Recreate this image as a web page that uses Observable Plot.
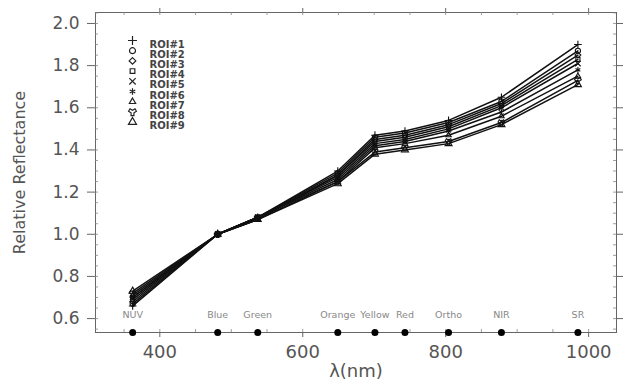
<!DOCTYPE html>
<html><head><meta charset="utf-8">
<script src="https://cdn.jsdelivr.net/npm/d3@7"></script>
<script src="https://cdn.jsdelivr.net/npm/@observablehq/plot@0.6"></script>
<style>
body{margin:0;background:#fff;}
#chart svg{font-family:"DejaVu Sans",sans-serif;}
</style>
</head><body><div id="chart"></div>
<script>
const wavelengths = [362, 481, 537, 649, 701, 743, 804, 878, 985];
const bandNames = ["NUV", "Blue", "Green", "Orange", "Yellow", "Red", "Ortho", "NIR", "SR"];
const seriesNames = ["ROI#1", "ROI#2", "ROI#3", "ROI#4", "ROI#5", "ROI#6", "ROI#7", "ROI#8", "ROI#9"];
const seriesSymbols = ["plus", "circle", "diamond2", "square2", "times", "asterisk", "triangle2", "wye", "triangle"];
const s1 = [0.66, 1.00, 1.08, 1.30, 1.47, 1.49, 1.54, 1.65, 1.90];
const s2 = [0.67, 1.00, 1.08, 1.29, 1.46, 1.48, 1.53, 1.63, 1.87];
const s3 = [0.68, 1.00, 1.08, 1.28, 1.45, 1.47, 1.52, 1.62, 1.85];
const s4 = [0.69, 1.00, 1.07, 1.28, 1.44, 1.46, 1.51, 1.61, 1.83];
const s5 = [0.70, 1.00, 1.08, 1.27, 1.43, 1.45, 1.50, 1.60, 1.81];
const s6 = [0.70, 1.00, 1.08, 1.26, 1.42, 1.44, 1.49, 1.58, 1.78];
const s7 = [0.71, 1.00, 1.07, 1.25, 1.41, 1.43, 1.47, 1.56, 1.75];
const s8 = [0.72, 1.00, 1.08, 1.25, 1.39, 1.41, 1.44, 1.53, 1.73];
const s9 = [0.73, 1.00, 1.07, 1.24, 1.38, 1.40, 1.43, 1.52, 1.71];
const seriesValues = [s1, s2, s3, s4, s5, s6, s7, s8, s9];
const yTicks = [0.6, 0.8, 1.0, 1.2, 1.4, 1.6, 1.8, 2.0];
const xTicks = [400, 600, 800, 1000];

const rows = [];
seriesValues.forEach((vals, i) => vals.forEach((v, j) => rows.push({series: seriesNames[i], sym: seriesSymbols[i], nm: wavelengths[j], v})));
const bands = wavelengths.map((nm, i) => ({nm, name: bandNames[i]}));
const yMinor = d3.range(0.55, 2.051, 0.05).map(d => +d.toFixed(2));
const xMinor = d3.range(350, 1040, 50);

const W = 634, H = 379, mL = 95, mR = 18, mT = 12, mB = 47;
const pw = W - mL - mR, ph = H - mT - mB;
const gray = "#555";

const legendMarks = [];
seriesNames.forEach((name, i) => {
  legendMarks.push(Plot.dot([name], {frameAnchor: "top-left", dx: 37, dy: 28 + i * 10.2, r: 3, symbol: () => seriesSymbols[i], stroke: "#222", strokeWidth: 1.2}));
  legendMarks.push(Plot.text([name], {frameAnchor: "top-left", dx: 54, dy: 28 + i * 10.2, text: d => d, textAnchor: "start", fontSize: 10, fontWeight: "bold", fill: "#444"}));
});

const chart = Plot.plot({
  width: W, height: H,
  marginLeft: mL, marginRight: mR, marginTop: mT, marginBottom: mB,
  style: {fontFamily: "DejaVu Sans, sans-serif", background: "#fff"},
  x: {domain: [310, 1039]},
  y: {domain: [0.534, 2.052]},
  symbol: {domain: seriesSymbols, range: seriesSymbols},
  marks: [
    Plot.frame({stroke: "#666"}),
    Plot.axisY({anchor: "left", ticks: yTicks, tickFormat: d3.format(".1f"), tickSize: 8, tickPadding: 8, fontSize: 17, fill: gray, stroke: "#666", label: null}),
    Plot.axisY({anchor: "left", ticks: [], label: "Relative Reflectance", labelAnchor: "center", labelArrow: "none", labelOffset: 82, fontSize: 16, fill: gray}),
    Plot.axisY({anchor: "right", ticks: yTicks, tickFormat: () => "", tickSize: 6, stroke: "#666", label: null}),
    Plot.tickY(yMinor, {y: d => d, insetRight: pw - 3, stroke: "#888", strokeWidth: 0.8}),
    Plot.tickY(yMinor, {y: d => d, insetLeft: pw - 3, stroke: "#888", strokeWidth: 0.8}),
    Plot.axisX({anchor: "bottom", ticks: xTicks, tickFormat: d3.format("d"), tickSize: 5, tickPadding: 8, fontSize: 18, fill: gray, stroke: "#666", label: "λ(nm)", labelAnchor: "center", labelArrow: "none", labelOffset: 44}),
    Plot.axisX({anchor: "top", ticks: xTicks, tickFormat: () => "", tickSize: 5, stroke: "#666", label: null}),
    Plot.tickX(xMinor, {x: d => d, insetTop: ph - 3, stroke: "#888", strokeWidth: 0.8}),
    Plot.tickX(xMinor, {x: d => d, insetBottom: ph - 3, stroke: "#888", strokeWidth: 0.8}),
    Plot.line(rows, {x: "nm", y: "v", z: "series", stroke: "#111", strokeWidth: 1.5}),
    Plot.dot(rows, {x: "nm", y: "v", symbol: "sym", r: 2.6, stroke: "#111", strokeWidth: 1.1}),
    Plot.dot(bands, {x: "nm", frameAnchor: "bottom", r: 3.5, fill: "#000"}),
    Plot.text(bands, {x: "nm", text: "name", frameAnchor: "bottom", dy: -15, fontSize: 9.5, fill: "#888"}),
    ...legendMarks
  ]
});
document.getElementById("chart").appendChild(chart);
</script>
</body></html>
